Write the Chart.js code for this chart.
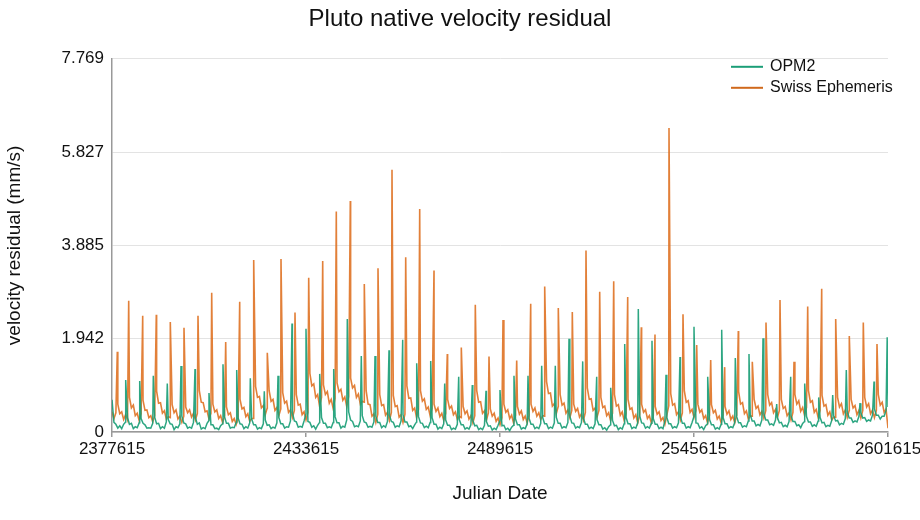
<!DOCTYPE html>
<html><head><meta charset="utf-8">
<script src="https://cdn.jsdelivr.net/npm/chart.js@4.4.1/dist/chart.umd.min.js"></script>
<style>html,body{margin:0;padding:0;background:#fff}</style>
</head><body><canvas id="c" width="920" height="520"></canvas>
<script>
const seriesNames = ['OPM2', 'Swiss Ephemeris'];
const jdStart = 2377615, jdStep = 560;
const xTicks = [2377615, 2433615, 2489615, 2545615, 2601615];
const yTicks = [0, 1.942, 3.885, 5.827, 7.769];
const yTickLabels = ['0', '1.942', '3.885', '5.827', '7.769'];

const opm2Base = [
0.67,0.20,0.16,0.08,0.13,0.07,0.16,0.21,
0.30,0.16,0.18,0.07,0.11,0.09,0.19,
0.28,0.18,0.15,0.08,0.09,0.08,0.18,
0.31,0.17,0.18,0.07,0.11,0.08,0.21,
0.26,0.17,0.16,0.05,0.11,0.09,0.17,
0.33,0.19,0.17,0.08,0.10,0.08,0.20,
0.30,0.16,0.19,0.06,0.09,0.07,0.18,
0.24,0.15,0.15,0.07,0.08,0.05,0.13,0.17,
0.32,0.18,0.18,0.08,0.10,0.09,0.20,
0.29,0.17,0.16,0.07,0.11,0.08,0.19,
0.27,0.15,0.15,0.06,0.09,0.07,0.17,
0.25,0.14,0.15,0.07,0.10,0.08,0.19,
0.30,0.17,0.17,0.08,0.11,0.10,0.23,
0.40,0.23,0.21,0.10,0.12,0.10,0.23,
0.38,0.22,0.20,0.10,0.13,0.06,0.14,0.20,
0.30,0.18,0.18,0.09,0.11,0.09,0.20,
0.32,0.19,0.19,0.08,0.12,0.10,0.25,
0.42,0.25,0.22,0.11,0.13,0.11,0.23,
0.34,0.21,0.19,0.10,0.12,0.10,0.21,
0.33,0.20,0.20,0.09,0.13,0.10,0.22,
0.35,0.22,0.20,0.10,0.13,0.11,0.23,
0.36,0.21,0.21,0.11,0.13,0.07,0.15,0.21,
0.32,0.19,0.18,0.09,0.12,0.09,0.20,
0.30,0.16,0.16,0.06,0.10,0.07,0.17,
0.25,0.14,0.14,0.05,0.08,0.06,0.16,
0.26,0.15,0.15,0.06,0.09,0.06,0.15,
0.24,0.13,0.14,0.05,0.08,0.05,0.14,
0.22,0.12,0.13,0.04,0.08,0.05,0.14,
0.24,0.13,0.14,0.05,0.08,0.03,0.10,0.14,
0.27,0.15,0.15,0.06,0.09,0.07,0.17,
0.28,0.16,0.16,0.07,0.10,0.07,0.18,
0.30,0.17,0.17,0.07,0.10,0.08,0.19,
0.31,0.18,0.18,0.08,0.11,0.09,0.20,
0.33,0.19,0.18,0.08,0.11,0.09,0.20,
0.29,0.16,0.16,0.07,0.10,0.07,0.17,
0.26,0.15,0.15,0.06,0.09,0.04,0.11,0.15,
0.24,0.13,0.14,0.05,0.09,0.06,0.17,
0.30,0.17,0.17,0.07,0.10,0.08,0.19,
0.34,0.19,0.18,0.08,0.11,0.08,0.18,
0.28,0.16,0.16,0.07,0.10,0.07,0.23,
0.30,0.17,0.17,0.08,0.11,0.09,0.19,
0.32,0.18,0.18,0.08,0.11,0.09,0.20,
0.33,0.19,0.18,0.08,0.11,0.05,0.13,0.17,
0.26,0.15,0.15,0.06,0.09,0.06,0.16,
0.30,0.17,0.17,0.08,0.11,0.09,0.20,
0.32,0.19,0.19,0.10,0.13,0.11,0.23,
0.36,0.23,0.23,0.13,0.16,0.13,0.25,
0.38,0.25,0.25,0.15,0.17,0.14,0.25,
0.30,0.19,0.20,0.11,0.14,0.11,0.22,
0.34,0.22,0.22,0.13,0.15,0.09,0.18,0.22,
0.32,0.21,0.21,0.12,0.15,0.12,0.23,
0.30,0.19,0.20,0.11,0.14,0.12,0.24,
0.34,0.23,0.24,0.15,0.18,0.16,0.28,
0.42,0.29,0.29,0.20,0.23,0.21,0.32,
0.40,0.29,0.30,0.22,0.25,0.23,0.35,
0.48,0.35,0.35,0.27,0.33,0.33,0.45,0.52
];

const swissBase = [
0.42,0.28,0.40,
0.58,0.38,0.42,0.26,0.36,0.25,
0.72,0.50,0.56,0.34,0.39,0.24,0.38,
0.66,0.45,0.46,0.30,0.34,0.21,0.34,
0.85,0.60,0.61,0.39,0.44,0.27,0.32,0.30,
0.57,0.40,0.46,0.27,0.33,0.20,0.33,
0.52,0.40,0.46,0.31,0.39,0.25,0.39,
0.86,0.62,0.61,0.42,0.44,0.27,0.39,
0.58,0.42,0.46,0.28,0.34,0.20,0.33,
0.52,0.36,0.40,0.22,0.28,0.16,0.29,
0.68,0.48,0.51,0.32,0.38,0.22,0.28,0.28,
0.95,0.72,0.74,0.50,0.55,0.36,0.50,
0.86,0.64,0.68,0.45,0.51,0.34,0.48,
0.82,0.60,0.64,0.41,0.46,0.30,0.45,
0.78,0.56,0.58,0.36,0.42,0.25,0.41,
1.22,0.96,1.00,0.72,0.78,0.54,0.72,
0.98,0.78,0.84,0.60,0.68,0.49,0.70,
1.02,0.84,0.89,0.66,0.73,0.53,0.74,
1.12,0.92,0.97,0.72,0.79,0.58,0.64,0.62,
0.86,0.58,0.57,0.33,0.38,0.20,0.37,
0.78,0.55,0.57,0.35,0.41,0.24,0.41,
0.76,0.53,0.55,0.31,0.36,0.20,0.37,
0.96,0.70,0.71,0.45,0.50,0.30,0.47,
0.86,0.64,0.69,0.47,0.52,0.34,0.49,
0.58,0.43,0.50,0.32,0.39,0.24,0.39,
0.68,0.49,0.54,0.36,0.42,0.26,0.33,0.30,
0.53,0.38,0.44,0.27,0.34,0.19,0.34,
0.86,0.62,0.63,0.39,0.44,0.25,0.40,
0.48,0.33,0.39,0.22,0.29,0.15,0.30,
0.58,0.41,0.46,0.28,0.35,0.19,0.35,
0.53,0.37,0.44,0.26,0.33,0.19,0.35,
0.58,0.43,0.50,0.33,0.40,0.26,0.34,0.33,
1.05,0.80,0.81,0.54,0.59,0.38,0.53,
0.78,0.56,0.60,0.39,0.46,0.30,0.45,
0.58,0.43,0.49,0.31,0.38,0.24,0.41,
0.92,0.68,0.69,0.45,0.50,0.31,0.45,
0.72,0.51,0.54,0.34,0.40,0.24,0.39,
0.78,0.54,0.57,0.35,0.42,0.24,0.39,
0.68,0.47,0.50,0.29,0.36,0.19,0.35,
0.58,0.41,0.46,0.28,0.34,0.19,0.33,
0.53,0.37,0.42,0.24,0.30,0.16,0.35,0.55,
0.80,0.56,0.59,0.36,0.42,0.25,0.40,
0.86,0.62,0.65,0.41,0.47,0.30,0.45,
0.58,0.41,0.46,0.28,0.34,0.19,0.35,
0.57,0.40,0.45,0.27,0.33,0.19,0.35,
0.53,0.37,0.44,0.26,0.33,0.19,0.35,
0.84,0.58,0.61,0.38,0.44,0.27,0.33,0.33,
0.68,0.49,0.54,0.36,0.43,0.29,0.45,
0.78,0.56,0.61,0.40,0.47,0.30,0.45,
0.68,0.49,0.53,0.34,0.40,0.25,0.41,
0.78,0.58,0.65,0.43,0.51,0.35,0.51,
0.86,0.62,0.65,0.41,0.47,0.30,0.45,
0.76,0.54,0.57,0.35,0.42,0.25,0.31,0.31,
0.72,0.52,0.59,0.38,0.46,0.30,0.45,
0.68,0.50,0.55,0.36,0.45,0.29,0.45,
0.72,0.52,0.59,0.38,0.46,0.30,0.45,
0.78,0.56,0.62,0.41,0.48,0.08
];

const opm2SpikeJD = [2381570,2385611,2389537,2393578,2397533,2401574,2405615,2409656,2413611,2417537,2421578,2425533,2429574,2433615,2437570,2441611,2445537,2449578,2453533,2457574,2461528,2465570,2469611,2473652,2477693,2481619,2485574,2489615,2493656,2497698,2501652,2505578,2509533,2513487,2517528,2521570,2525611,2529537,2533491,2537533,2541574,2545615,2549570,2553611,2557537,2561491,2565533,2569487,2573528,2577570,2581611,2585652,2589578,2593533,2597578,2601380];
const opm2SpikeVal = [1.08,1.06,1.17,1.01,1.375,1.31,0.81,1.41,1.29,1.12,0.85,1.17,2.26,2.15,1.21,1.31,2.35,1.58,1.58,1.70,1.92,1.43,1.48,1.01,1.15,0.98,0.86,0.875,1.17,1.17,1.38,1.38,1.94,1.47,1.15,0.92,1.83,2.56,1.90,1.19,1.56,2.19,1.15,2.13,1.54,1.625,1.95,0.58,1.15,1.01,0.72,0.77,1.29,0.6,1.05,1.97];

const swissSpikeJD = [2379145,2382436,2386477,2390403,2394444,2398399,2402440,2406394,2410436,2414477,2418518,2422444,2426399,2430440,2434395,2438436,2442361,2446403,2450444,2454399,2458440,2462395,2466436,2470564,2474403,2478444,2482485,2486440,2490481,2494436,2498477,2502518,2506444,2510485,2514440,2518394,2522436,2526477,2530403,2534357,2538399,2542440,2546395,2550436,2554477,2558405,2562444,2566399,2570440,2574481,2578436,2582477,2586518,2590444,2594485,2598440];
const swissSpikeVal = [1.67,2.73,2.42,2.44,2.29,2.17,2.42,2.90,1.875,2.71,3.58,1.65,3.60,2.49,3.21,3.56,4.59,4.81,3.08,3.41,5.46,3.64,4.64,3.36,1.625,1.76,2.65,1.57,2.33,1.49,2.67,3.03,2.58,2.50,3.78,2.92,3.14,2.81,2.18,2.03,6.33,2.45,1.81,1.50,1.35,2.10,1.46,2.28,2.75,1.46,2.61,2.98,2.35,2.00,2.28,1.83];

function buildSeries(base, spikeJD, spikeVal) {
  const pts = base.map((v, i) => ({x: jdStart + i * jdStep, y: v}));
  spikeJD.forEach((jd, i) => pts.push({x: jd, y: spikeVal[i]}));
  pts.sort((a, b) => a.x - b.x);
  return pts;
}

const FONT = '"Liberation Sans", Arial, Helvetica, sans-serif';
const colors = ['rgba(27,158,119,0.92)', 'rgba(222,110,30,0.88)'];
const legendColors = ['#1b9e77', '#d0691c'];

const legendPlugin = {
  id: 'insideLegend',
  afterDraw(chart) {
    const ctx = chart.ctx, area = chart.chartArea;
    ctx.save();
    ctx.font = '16px ' + FONT;
    ctx.textBaseline = 'middle';
    ctx.textAlign = 'left';
    chart.data.datasets.forEach((ds, i) => {
      const y = area.top + 8 + i * 21;
      const x0 = area.right - 157;
      ctx.strokeStyle = legendColors[i];
      ctx.lineWidth = 2;
      ctx.beginPath(); ctx.moveTo(x0, y); ctx.lineTo(x0 + 32, y); ctx.stroke();
      ctx.fillStyle = '#111';
      ctx.fillText(ds.label, x0 + 39, y);
    });
    ctx.restore();
  }
};

new Chart(document.getElementById('c'), {
  type: 'line',
  data: {
    datasets: [
      {label: seriesNames[0], data: buildSeries(opm2Base, opm2SpikeJD, opm2SpikeVal), borderColor: colors[0], borderWidth: 1.5, pointRadius: 0, tension: 0, fill: false},
      {label: seriesNames[1], data: buildSeries(swissBase, swissSpikeJD, swissSpikeVal), borderColor: colors[1], borderWidth: 1.6, pointRadius: 0, tension: 0, fill: false}
    ]
  },
  options: {
    responsive: false,
    animation: false,
    events: [],
    layout: {padding: 0},
    plugins: {
      legend: {display: false},
      tooltip: {enabled: false},
      title: {display: true, text: 'Pluto native velocity residual', color: '#111',
        font: {family: FONT, size: 24, weight: 'normal'}, padding: {top: 5, bottom: 25}}
    },
    scales: {
      x: {
        type: 'linear', min: xTicks[0], max: xTicks[xTicks.length - 1],
        afterBuildTicks: s => { s.ticks = xTicks.map(v => ({value: v})); },
        afterFit: s => { s.height = 88; s.paddingLeft = 0; s.paddingRight = 32; },
        ticks: {color: '#111', font: {family: FONT, size: 17}, padding: 2, maxRotation: 0, autoSkip: false,
          callback: v => String(v)},
        grid: {drawOnChartArea: false, drawTicks: true, tickLength: 5, color: '#999', lineWidth: 1.5},
        border: {display: true, color: '#999', width: 1.5},
        title: {display: true, text: 'Julian Date', color: '#111', font: {family: FONT, size: 19}, padding: {top: 0, bottom: 15}}
      },
      y: {
        type: 'linear', min: 0, max: yTicks[yTicks.length - 1],
        afterBuildTicks: s => { s.ticks = yTicks.map(v => ({value: v})); },
        afterFit: s => { s.width = 112; s.paddingTop = 0; s.paddingBottom = 0; },
        ticks: {color: '#111', font: {family: FONT, size: 17}, padding: 8, autoSkip: false,
          callback: (v, i) => yTickLabels[i]},
        grid: {drawTicks: false, color: '#e3e3e3', lineWidth: 1},
        border: {display: true, color: '#999', width: 1.5},
        title: {display: true, text: 'velocity residual (mm/s)', color: '#111', font: {family: FONT, size: 19}, padding: {top: 3, bottom: 0}}
      }
    }
  },
  plugins: [legendPlugin]
});
</script></body></html>
